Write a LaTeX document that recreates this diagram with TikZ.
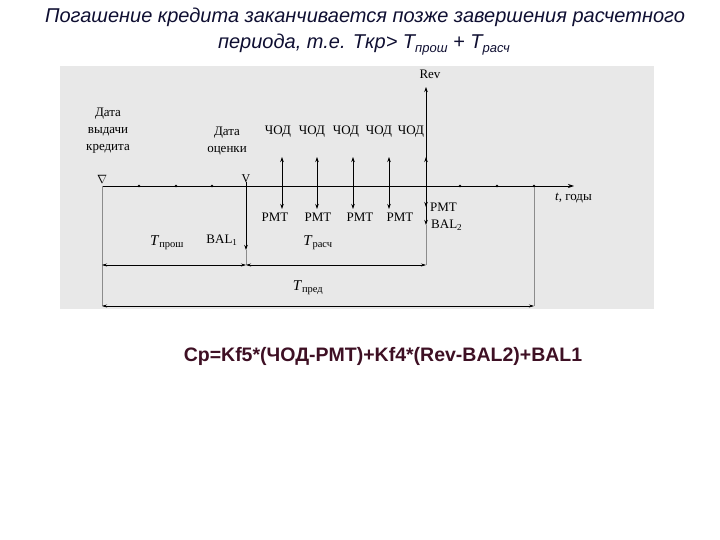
\documentclass[tikz,border=0pt]{standalone}
\usepackage{fontspec}
\setmainfont{Liberation Serif}
\newfontfamily\hsans{Liberation Sans}
\usetikzlibrary{arrows.meta}
\definecolor{titlecol}{RGB}{15,15,50}
\definecolor{formcol}{RGB}{62,16,36}
\begin{document}
\begin{tikzpicture}[x=1pt,y=-1pt,
  axisline/.style={line width=0.8pt,-{Stealth[length=6pt,width=4pt]}},
  flow/.style={line width=0.8pt,-{Stealth[length=5pt,width=3.5pt]}},
  dimline/.style={line width=0.5pt,{Stealth[length=5pt,width=3pt]}-{Stealth[length=5pt,width=3pt]}},
  extline/.style={line width=0.4pt,black!45},
  lbl/.style={font=\fontsize{13}{17}\selectfont,inner sep=0pt,align=center},
  tlbl/.style={font=\fontsize{15}{17}\selectfont,inner sep=0pt},
  tick/.style={circle,fill,inner sep=0pt,minimum size=2.6pt},
  datemark/.style={font=\fontsize{12}{12}\selectfont,inner sep=0pt},
  ttl/.style={font=\hsans\itshape\fontsize{20}{22}\selectfont,inner sep=0pt,text=titlecol},
]
\useasboundingbox (0,0) rectangle (720,540);
\fill[black!9] (60,66) rectangle (654,309);

% title
\node[ttl] (t1) at (365,17) {Погашение кредита заканчивается позже завершения расчетного};
\node[ttl] (t2) at (364,45) {периода, т.е. Tкр> T\raisebox{-4pt}{\fontsize{13}{14}\selectfont прош} + T\raisebox{-4pt}{\fontsize{13}{14}\selectfont расч}};

% time axis
\coordinate (a0) at (102,186);
\coordinate (aend) at (574,186);
\draw[axisline] (a0) -- (aend);
\node[datemark] (m0) at (102,179) {$\nabla$};
\node[datemark] (m1) at (246,179) {V};
\foreach \x/\n in {139/d1,176/d2,212/d3,460/d4,497/d5,534/d6}
  \node[tick] (\n) at (\x,186) {};
\node[lbl,anchor=west] (tl) at (555,198) {\textit{t}, годы};

% dates
\node[lbl] (dv) at (108,131) {Дата\\выдачи\\кредита};
\node[lbl] (doc) at (227,141) {Дата\\оценки};

% ЧОД / PMT arrows
\foreach \x/\lx/\px/\i in {282/278/275/1,317/312/318/2,353/346/360/3,389/379/400/4}{
  \coordinate (b\i) at (\x,186);
  \coordinate (u\i) at (\x,157);
  \coordinate (w\i) at (\x,209);
  \draw[flow] (b\i) -- (u\i);
  \draw[flow] (b\i) -- (w\i);
  \node[lbl] (c\i) at (\lx,132) {ЧОД};
  \node[lbl] (p\i) at (\px,217) {PMT};
}
\node[lbl] (c5) at (411,132) {ЧОД};
\coordinate (b5) at (426,186);
\coordinate (u5) at (426,157);
\coordinate (rv) at (426,87);
\coordinate (w5) at (426,207);
\coordinate (bal2) at (426,225);
\coordinate (e5) at (426,265);
\draw[flow] (b5) -- (rv);
\draw[flow] (b5) -- (u5);
\draw[flow] (b5) -- (w5);
\draw[flow] (b5) -- (bal2);
\draw[extline] (bal2) -- (e5);
\node[lbl] (rev) at (430,74) {Rev};
\node[lbl,anchor=west] (p5) at (430,207) {PMT};
\node[lbl,anchor=west] (b2l) at (431,225) {BAL\textsubscript{2}};

% BAL1
\coordinate (v0) at (246,182);
\coordinate (v1) at (246,250);
\coordinate (v2) at (246,265);
\draw[flow] (v0) -- (v1);
\draw[extline] (v1) -- (v2);
\node[lbl] (b1l) at (222,240) {BAL\textsubscript{1}};

% extension lines
\coordinate (x0) at (102,306);
\coordinate (x6) at (534,306);
\draw[extline] (a0) -- (x0);
\draw[extline] (d6) -- (x6);

% dimensions
\coordinate (p0) at (102,265);
\draw[dimline] (p0) -- (v2);
\draw[dimline] (v2) -- (e5);
\draw[dimline] (x0) -- (x6);
\node[tlbl] (tp) at (167,243) {\textit{T}\textsubscript{прош}};
\node[tlbl] (tr) at (318,243) {\textit{T}\textsubscript{расч}};
\node[tlbl] (td) at (308,288) {\textit{T}\textsubscript{пред}};

% formula
\node[font=\hsans\bfseries\fontsize{19.5}{22}\selectfont,inner sep=0pt,text=formcol] (f) at (383,356) {Cp=Kf5*(ЧОД-PMT)+Kf4*(Rev-BAL2)+BAL1};
\end{tikzpicture}
\end{document}
